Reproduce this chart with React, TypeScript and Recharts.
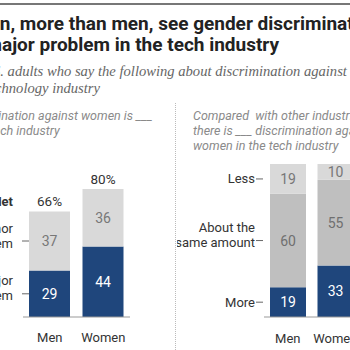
import { Bar, BarChart, LabelList, XAxis, YAxis } from "recharts";

// left panel: "Discrimination against women is ___"
const groups = ["Men", "Women"];
const majorProblem = [29, 44];
const minorProblem = [37, 36];
const leftTickLabels = [["A major", "problem"], ["A minor", "problem"]];

// right panel: "Compared with other industries, there is ___"
const moreDiscr = [19, 33];
const sameDiscr = [60, 55];
const lessDiscr = [19, 10];
const rightTickLabels = [["More"], ["About the", "same amount"], ["Less"]];

const NAVY = "#1f467c";
const LIGHT = "#d9d9d9";
const MID = "#bfbfbf";
const INK = "#333";
const SANS = "Roboto, 'Noto Sans', sans-serif";

const leftRows = groups.map((g, i) => ({
  name: g,
  major: majorProblem[i],
  minor: minorProblem[i],
  net: majorProblem[i] + minorProblem[i],
}));
const rightRows = groups.map((g, i) => ({
  name: g,
  more: moreDiscr[i],
  same: sameDiscr[i],
  less: lessDiscr[i],
}));

// side labels sit at the midpoint of the Men bar's segments
const leftTicks = [majorProblem[0] / 2, majorProblem[0] + minorProblem[0] / 2];
const rightTicks = [
  moreDiscr[0] / 2,
  moreDiscr[0] + sameDiscr[0] / 2,
  moreDiscr[0] + sameDiscr[0] + lessDiscr[0] / 2,
];

function makeTick(labels: string[][], lineStart: number) {
  return function SideTick(props: any) {
    const { x, y, index } = props;
    const lines = labels[index] ?? [];
    const first = lines.length > 1 ? -8.5 : 4.5;
    return (
      <g>
        <line x1={x + lineStart} x2={x + lineStart + 7} y1={y} y2={y} stroke="#666" strokeWidth={1} />
        <text x={x} y={y} textAnchor="end" fontSize={13} fill={INK} fontFamily={SANS}>
          {lines.map((l, i) => (
            <tspan key={i} x={x} dy={i === 0 ? first : 15}>
              {l}
            </tspan>
          ))}
        </text>
      </g>
    );
  };
}

const xTick = { fontSize: 13, fill: INK, fontFamily: SANS };
const valueStyle = { fontSize: 14, fontFamily: SANS };

export default function App() {
  return (
    <div
      style={{
        position: "fixed",
        left: 0,
        top: 0,
        width: 350,
        height: 350,
        overflow: "hidden",
        background: "#fff",
        fontFamily: SANS,
      }}
    >
      <div style={{ position: "absolute", left: 0, top: 3, width: 350, height: 2, background: "#777" }} />

      <div
        style={{
          position: "absolute",
          left: -54,
          top: 13,
          whiteSpace: "nowrap",
          fontSize: 19,
          fontWeight: 700,
          lineHeight: "21px",
          color: "#222",
        }}
      >
        Women, more than men, see gender discrimination
        <br />
        as a major problem in the tech industry
      </div>

      <div
        style={{
          position: "absolute",
          left: -52,
          top: 63,
          whiteSpace: "nowrap",
          fontFamily: "'Liberation Serif', serif",
          fontStyle: "italic",
          fontSize: 14.6,
          lineHeight: "17px",
          color: "#666",
        }}
      >
        % of U.S. adults who say the following about discrimination against women
        <br />
        in the technology industry
      </div>

      <div
        style={{
          position: "absolute",
          left: -43,
          top: 108,
          whiteSpace: "nowrap",
          fontStyle: "italic",
          fontSize: 12.5,
          lineHeight: "15px",
          color: "#8a8a8a",
        }}
      >
        Discrimination against women is ___
        <br />
        in the tech industry
      </div>

      <div
        style={{
          position: "absolute",
          left: 193,
          top: 108,
          whiteSpace: "nowrap",
          fontStyle: "italic",
          fontSize: 12.5,
          lineHeight: "15px",
          color: "#8a8a8a",
        }}
      >
        Compared&nbsp; with other industries,
        <br />
        there is ___ discrimination against
        <br />
        women in the tech industry
      </div>

      <div
        style={{
          position: "absolute",
          right: 337,
          top: 194,
          fontSize: 13,
          fontWeight: 700,
          color: INK,
          whiteSpace: "nowrap",
        }}
      >
        Net
      </div>

      <div
        style={{
          position: "absolute",
          left: 175,
          top: 103,
          height: 247,
          borderLeft: "1px dotted #bbb",
        }}
      />

      <div style={{ position: "absolute", left: 0, top: 0 }}>
        <BarChart width={140} height={350} data={leftRows} margin={{ top: 157, right: 10, bottom: 3, left: 0 }}>
          <XAxis
            dataKey="name"
            height={30}
            tick={xTick}
            tickLine={false}
            tickMargin={10}
            axisLine={{ stroke: "#999" }}
          />
          <YAxis
            type="number"
            domain={[0, 100]}
            ticks={leftTicks}
            width={23}
            tickSize={10}
            tickMargin={0}
            axisLine={false}
            tickLine={false}
            tick={makeTick(leftTickLabels, 9)}
            interval={0}
          />
          <Bar dataKey="major" stackId="a" fill={NAVY} barSize={41} isAnimationActive={false}>
            <LabelList dataKey="major" position="center" style={{ ...valueStyle, fill: "#fff" }} />
          </Bar>
          <Bar dataKey="minor" stackId="a" fill={LIGHT} barSize={41} isAnimationActive={false}>
            <LabelList dataKey="minor" position="center" style={{ ...valueStyle, fill: "#777" }} />
            <LabelList
              dataKey="net"
              position="top"
              offset={5}
              formatter={(v: any) => `${v}%`}
              style={{ fontSize: 13.5, fontFamily: SANS, fill: INK }}
            />
          </Bar>
        </BarChart>
      </div>

      <div style={{ position: "absolute", left: 177, top: 0 }}>
        <BarChart width={182} height={350} data={rightRows} margin={{ top: 161, right: 0, bottom: 3, left: 0 }}>
          <XAxis
            dataKey="name"
            height={30}
            tick={xTick}
            tickLine={false}
            tickMargin={11}
            axisLine={{ stroke: "#999" }}
          />
          <YAxis
            type="number"
            domain={[0, 100]}
            ticks={rightTicks}
            width={87}
            tickSize={8}
            tickMargin={1}
            axisLine={false}
            tickLine={false}
            tick={makeTick(rightTickLabels, 1)}
            interval={0}
          />
          <Bar dataKey="more" stackId="b" fill={NAVY} barSize={36} isAnimationActive={false}>
            <LabelList dataKey="more" position="center" style={{ ...valueStyle, fill: "#fff" }} />
          </Bar>
          <Bar dataKey="same" stackId="b" fill={MID} barSize={36} isAnimationActive={false}>
            <LabelList dataKey="same" position="center" style={{ ...valueStyle, fill: "#6f6f6f" }} />
          </Bar>
          <Bar dataKey="less" stackId="b" fill={LIGHT} barSize={36} isAnimationActive={false}>
            <LabelList dataKey="less" position="center" style={{ ...valueStyle, fill: "#777" }} />
          </Bar>
        </BarChart>
      </div>
    </div>
  );
}
